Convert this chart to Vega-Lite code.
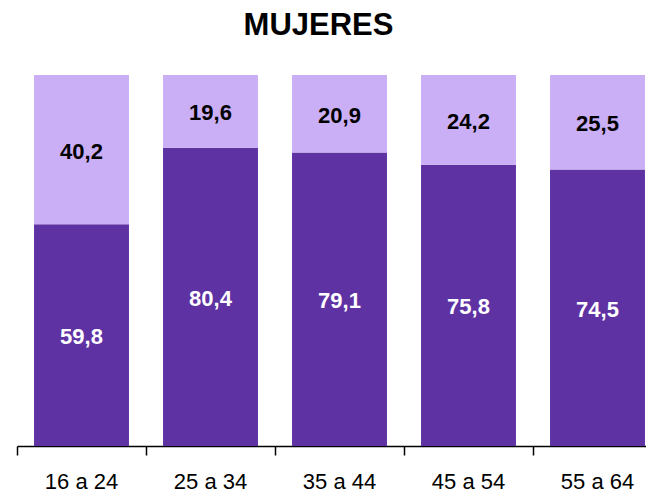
{
  "$schema": "https://vega.github.io/schema/vega-lite/v6.json",
  "width": 629,
  "height": 371,
  "autosize": {"type": "none"},
  "padding": {"left": 17, "top": 75, "right": 0, "bottom": 49},
  "title": {"text": "MUJERES", "fontSize": 31, "font": "Liberation Sans", "fontWeight": "bold", "color": "black", "anchor": "middle", "dx": -13, "offset": 33},
  "config": {
    "view": {"stroke": null},
    "locale": {"number": {"decimal": ",", "thousands": ".", "grouping": [3], "currency": ["", "€"]}}
  },
  "data": {
    "values": [
      {"edad": "16 a 24", "parte": "inferior", "orden": 1, "valor": 59.8},
      {"edad": "16 a 24", "parte": "superior", "orden": 2, "valor": 40.2},
      {"edad": "25 a 34", "parte": "inferior", "orden": 1, "valor": 80.4},
      {"edad": "25 a 34", "parte": "superior", "orden": 2, "valor": 19.6},
      {"edad": "35 a 44", "parte": "inferior", "orden": 1, "valor": 79.1},
      {"edad": "35 a 44", "parte": "superior", "orden": 2, "valor": 20.9},
      {"edad": "45 a 54", "parte": "inferior", "orden": 1, "valor": 75.8},
      {"edad": "45 a 54", "parte": "superior", "orden": 2, "valor": 24.2},
      {"edad": "55 a 64", "parte": "inferior", "orden": 1, "valor": 74.5},
      {"edad": "55 a 64", "parte": "superior", "orden": 2, "valor": 25.5}
    ]
  },
  "transform": [
    {"stack": "valor", "groupby": ["edad"], "sort": [{"field": "orden"}], "as": ["v0", "v1"]},
    {"calculate": "(datum.v0 + datum.v1) / 2", "as": "vm"}
  ],
  "encoding": {
    "x": {
      "field": "edad",
      "type": "nominal",
      "scale": {"range": [0, 645], "paddingInner": 0.264, "paddingOuter": 0.132},
      "axis": {
        "title": null,
        "labelAngle": 0,
        "bandPosition": -0.179,
        "labelOffset": 0,
        "labelFont": "Liberation Sans",
        "labelFontSize": 22,
        "labelColor": "black",
        "labelPadding": 16,
        "tickSize": 9,
        "tickColor": "black",
        "tickWidth": 1.5,
        "domainColor": "black",
        "domainWidth": 1.5
      }
    }
  },
  "layer": [
    {
      "mark": {"type": "bar"},
      "encoding": {
        "y": {"field": "v0", "type": "quantitative", "scale": {"domain": [0, 100]}, "axis": null},
        "y2": {"field": "v1"},
        "color": {
          "field": "parte",
          "type": "nominal",
          "scale": {"domain": ["inferior", "superior"], "range": ["#5F32A4", "#CBAFF6"]},
          "legend": null
        }
      }
    },
    {
      "mark": {"type": "text", "fontSize": 22, "fontWeight": "bold", "font": "Liberation Sans", "dy": 2},
      "encoding": {
        "y": {"field": "vm", "type": "quantitative"},
        "text": {"field": "valor", "type": "quantitative", "format": ".1f"},
        "color": {"condition": {"test": "datum.parte === 'inferior'", "value": "white"}, "value": "black"}
      }
    }
  ]
}
